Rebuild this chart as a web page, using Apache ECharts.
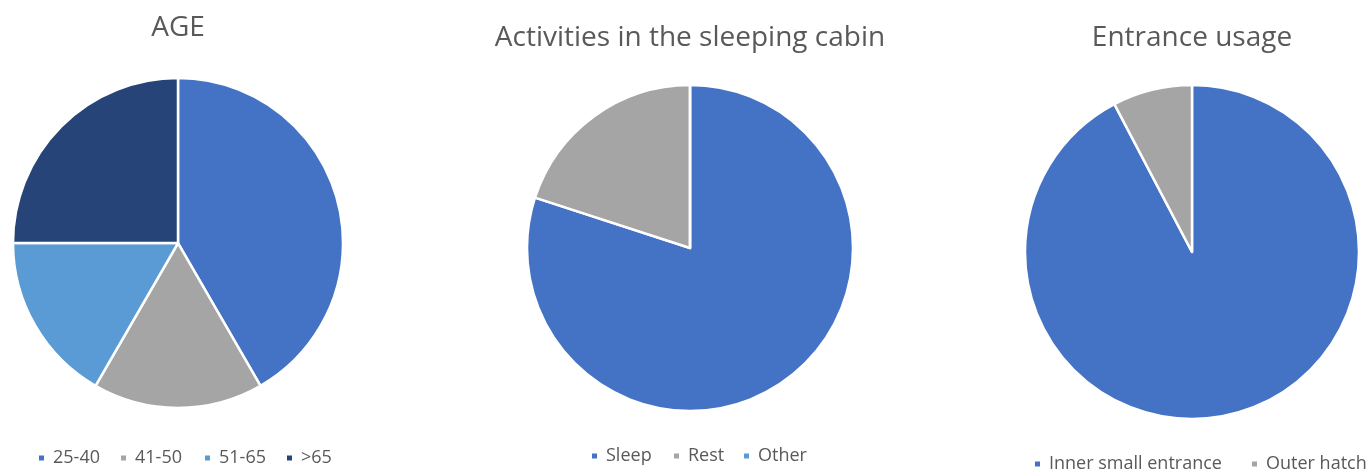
<!DOCTYPE html>
<html>
<head>
<meta charset="utf-8">
<script src="https://cdn.jsdelivr.net/npm/echarts@6/dist/echarts.min.js"></script>
<style>
  html, body { margin: 0; padding: 0; background: #ffffff; }
  #chart { width: 1367px; height: 471px; }
</style>
</head>
<body>
<div id="chart"></div>
<script>
// Age groups of respondents
const ageCategories = ['25-40', '41-50', '51-65', '>65'];
const ageValues = [5, 2, 2, 3];
const ageColors = ['#4472C4', '#A5A5A5', '#5B9BD5', '#264478'];

// What the sleeping cabin is used for
const activityCategories = ['Sleep', 'Rest', 'Other'];
const activityValues = [80, 20, 0];
const activityColors = ['#4472C4', '#A5A5A5', '#5B9BD5'];

// Which entrance is used
const entranceCategories = ['Inner small entrance', 'Outer hatch'];
const entranceValues = [12, 1];
const entranceColors = ['#4472C4', '#A5A5A5'];

const titles = ['AGE', 'Activities in the sleeping cabin', 'Entrance usage'];

const FONT = '"Open Sans", Lato, sans-serif';
const TEXT = '#595959';

function pieData(names, values, colors) {
  return names.map((n, i) => ({ name: n, value: values[i], itemStyle: { color: colors[i] } }));
}

function pieSeries(names, values, colors, center, radius) {
  return {
    type: 'pie',
    center: center,
    radius: radius,
    startAngle: 90,
    clockwise: true,
    label: { show: false },
    labelLine: { show: false },
    emphasis: { disabled: true },
    silent: true,
    animation: false,
    itemStyle: { borderColor: '#ffffff', borderWidth: 2.5 },
    data: pieData(names, values, colors)
  };
}

function titleAt(text, cx, top) {
  return {
    text: text,
    left: cx,
    top: top,
    padding: 0,
    textAlign: 'center',
    textStyle: { fontFamily: FONT, fontSize: 28, fontWeight: 'normal', color: TEXT }
  };
}

function legendItem(name, x, cy) {
  return {
    data: [name],
    left: x,
    top: cy - 11,
    padding: 0,
    icon: 'rect',
    itemWidth: 7,
    itemHeight: 7,
    selectedMode: false,
    textStyle: { fontFamily: FONT, fontSize: 18, color: TEXT, padding: [0, 0, 0, 3] }
  };
}

const legendX1 = [37, 119, 203, 285];
const legendX2 = [590, 672, 742];
const legendX3 = [1033, 1250];

const legends = []
  .concat(ageCategories.map((n, i) => legendItem(n, legendX1[i], 460)))
  .concat(activityCategories.map((n, i) => legendItem(n, legendX2[i], 458)))
  .concat(entranceCategories.map((n, i) => legendItem(n, legendX3[i], 466)));

const chart = echarts.init(document.getElementById('chart'), null, { renderer: 'canvas' });
chart.setOption({
  backgroundColor: '#ffffff',
  animation: false,
  title: [
    titleAt(titles[0], 178, 14),
    titleAt(titles[1], 690, 24),
    titleAt(titles[2], 1192, 24)
  ],
  legend: legends,
  series: [
    pieSeries(ageCategories, ageValues, ageColors, [178, 243], 165),
    pieSeries(activityCategories, activityValues, activityColors, [690, 248], 163),
    pieSeries(entranceCategories, entranceValues, entranceColors, [1192, 252], 167)
  ]
});
</script>
</body>
</html>
